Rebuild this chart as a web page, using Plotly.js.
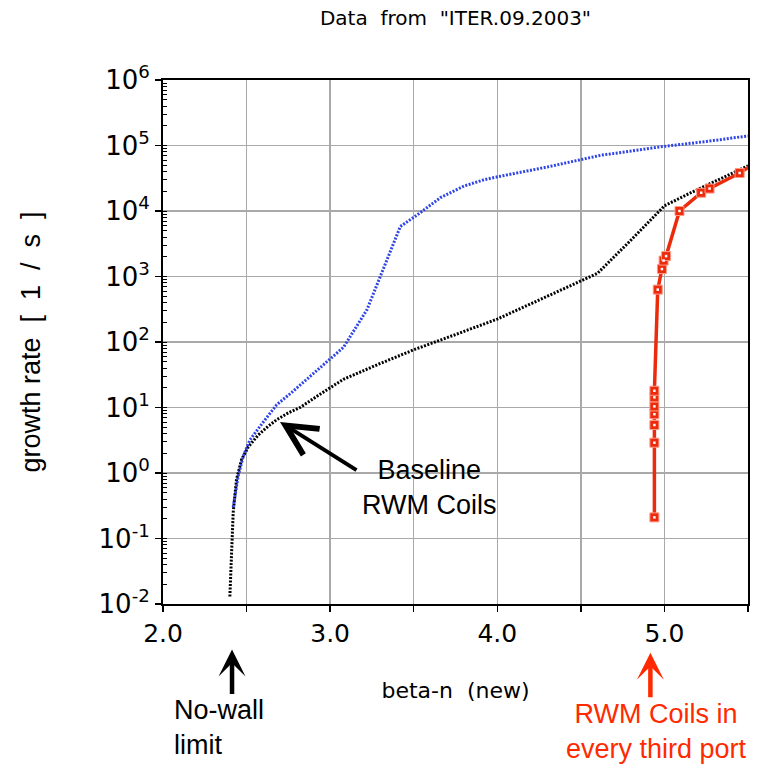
<!DOCTYPE html>
<html>
<head>
<meta charset="utf-8">
<script src="https://cdn.plot.ly/plotly-3.0.1.min.js"></script>
<style>html,body{margin:0;padding:0;background:#fff;}#chart{width:768px;height:768px;}</style>
</head>
<body>
<div id="chart"></div>
<script>
// Baseline RWM coils (black dotted)
const baseX = [2.40, 2.405, 2.41, 2.42, 2.44, 2.47, 2.51, 2.57, 2.63, 2.68, 2.75, 2.82, 2.95, 3.08, 3.3, 3.5, 3.75, 4.0, 4.3, 4.6, 4.8, 5.0, 5.15, 5.3, 5.45, 5.5];
const baseY = [0.013, 0.03, 0.07, 0.25, 0.8, 1.6, 2.5, 3.8, 5.2, 6.5, 8.3, 10, 16.6, 27, 47, 76, 130, 224, 500, 1120, 3600, 12000, 18600, 28000, 43000, 49000];
// Blue dotted curve
const blueX = [2.42, 2.45, 2.48, 2.52, 2.6, 2.68, 2.77, 2.88, 3.0, 3.08, 3.22, 3.30, 3.36, 3.42, 3.52, 3.66, 3.8, 3.92, 4.02, 4.3, 4.62, 5.0, 5.25, 5.5];
const blueY = [0.3, 0.9, 1.8, 3.2, 6, 11, 17, 30, 54, 83, 310, 1000, 2400, 5800, 8700, 16000, 24000, 30000, 34000, 47000, 71000, 97000, 115000, 140000];
// RWM coils in every third port (red, markers)
const redX = [4.94, 4.94, 4.94, 4.94, 4.94, 4.94, 4.94, 4.96, 4.985, 4.995, 5.01, 5.09, 5.22, 5.27, 5.45, 5.55];
const redY = [0.21, 2.9, 5.4, 7.9, 10.4, 14.3, 18, 630, 1300, 1750, 2050, 10000, 19000, 22000, 38000, 55000];

const xTickVals = [2.0, 2.5, 3.0, 3.5, 4.0, 4.5, 5.0, 5.5];
const xTickText = ['2.0', '', '3.0', '', '4.0', '', '5.0', ''];
const yTickVals = [1e-2, 1e-1, 1e0, 1e1, 1e2, 1e3, 1e4, 1e5, 1e6];
const yTickText = ['10<sup>-2</sup>', '10<sup>-1</sup>', '10<sup>0</sup>', '10<sup>1</sup>', '10<sup>2</sup>',
                   '10<sup>3</sup>', '10<sup>4</sup>', '10<sup>5</sup>', '10<sup>6</sup>'];

const traces = [
  {x: baseX, y: baseY, mode: 'lines', line: {color: '#000000', width: 3, dash: '2px,1.5px'}, hoverinfo: 'skip'},
  {x: blueX, y: blueY, mode: 'lines', line: {color: '#2f45e6', width: 3, dash: '2px,1.5px'}, hoverinfo: 'skip'},
  {x: redX, y: redY, mode: 'lines+markers', line: {color: '#ec2a0c', width: 3.5},
   marker: {symbol: 'square', size: 9, color: '#ec2a0c', line: {color: '#ff9a88', width: 1}}},
  {x: redX, y: redY, mode: 'markers', marker: {symbol: 'square', size: 2.5, color: '#ffffff', line: {width: 0}}, hoverinfo: 'skip'},
  // invisible trace on overlay axis used only for minor tick marks
  {x: [2.0], y: [1], yaxis: 'y2', mode: 'markers', marker: {opacity: 0}, hoverinfo: 'skip'}
];

const NB = '\u00A0';
const annFont = {family: 'Liberation Sans, Arial, sans-serif', size: 27, color: '#000'};
const layout = {
  width: 768, height: 768,
  margin: {l: 163, r: 20, t: 80, b: 164},
  paper_bgcolor: '#fff', plot_bgcolor: '#fff',
  showlegend: false,
  title: {text: 'Data' + NB + NB + 'from' + NB + NB + '"ITER.09.2003"', font: {family: 'DejaVu Sans', size: 20, color: '#000'},
          x: 0.5, xref: 'paper', xanchor: 'center', y: 0.977, yref: 'container', yanchor: 'middle'},
  xaxis: {
    type: 'linear', range: [2.0, 5.5], tickvals: xTickVals, ticktext: xTickText,
    showgrid: true, gridcolor: '#a9a9a9', gridwidth: 1.5,
    showline: true, linecolor: '#000', linewidth: 2, mirror: true,
    ticks: 'outside', ticklen: 6, tickwidth: 1.5, tickcolor: '#000',
    tickfont: {family: 'DejaVu Sans', size: 25, color: '#000'},
    zeroline: false,
    title: {text: 'beta-n' + NB + NB + '(new)', font: {family: 'DejaVu Sans', size: 22, color: '#000'}, standoff: 36}
  },
  yaxis: {
    type: 'log', range: [-2, 6], tickvals: yTickVals, ticktext: yTickText,
    showgrid: true, gridcolor: '#a9a9a9', gridwidth: 1.5,
    showline: true, linecolor: '#000', linewidth: 2, mirror: true,
    ticks: 'outside', ticklen: 6, tickwidth: 1.5, tickcolor: '#000',
    tickfont: {family: 'DejaVu Sans', size: 26, color: '#000'},
    zeroline: false,
    title: {text: 'growth rate' + NB + NB + '[' + NB + NB + '1' + NB + NB + '/' + NB + NB + 's' + NB + NB + ']',
            font: {family: 'Liberation Sans, Arial, sans-serif', size: 27, color: '#000'}, standoff: 50}
  },
  yaxis2: {
    type: 'log', range: [-2, 6], overlaying: 'y', side: 'left', dtick: 'D1',
    showgrid: false, zeroline: false, showline: false, showticklabels: false,
    ticks: 'inside', ticklen: 4, tickwidth: 1, tickcolor: '#000'
  },
  annotations: [
    // Baseline arrow
    {x: 2.70, y: Math.log10(6.0), xref: 'x', yref: 'y', text: '', showarrow: true,
     ax: 78, ay: 49, axref: 'pixel', ayref: 'pixel', arrowhead: 5, arrowsize: 1.5, arrowwidth: 4, arrowcolor: '#000', standoff: 0},
    {x: 0.456, y: 0.223, xref: 'paper', yref: 'paper', text: 'Baseline<br>RWM Coils', showarrow: false,
     font: annFont, align: 'center', xanchor: 'center', yanchor: 'middle'},
    // No-wall limit arrow
    {x: 2.413, y: -0.087, xref: 'x', yref: 'paper', text: '', showarrow: true,
     ax: 0, ay: 46, arrowhead: 3, arrowsize: 1, arrowwidth: 4.5, arrowcolor: '#000', standoff: 0},
    {x: 0.015, y: -0.235, xref: 'paper', yref: 'paper', text: 'No-wall<br>limit', showarrow: false,
     font: annFont, align: 'left', xanchor: 'left', yanchor: 'middle'},
    // RWM coils every third port arrow
    {x: 4.916, y: -0.093, xref: 'x', yref: 'paper', text: '', showarrow: true,
     ax: 0, ay: 46, arrowhead: 3, arrowsize: 1, arrowwidth: 4.5, arrowcolor: '#ff2a00', standoff: 0},
    {x: 0.844, y: -0.244, xref: 'paper', yref: 'paper', text: 'RWM Coils in<br>every third port', showarrow: false,
     font: {family: 'Liberation Sans, Arial, sans-serif', size: 27, color: '#ff2a00'}, align: 'center', xanchor: 'center', yanchor: 'middle'}
  ]
};

Plotly.newPlot('chart', traces, layout, {displayModeBar: false, staticPlot: true});
</script>
</body>
</html>
